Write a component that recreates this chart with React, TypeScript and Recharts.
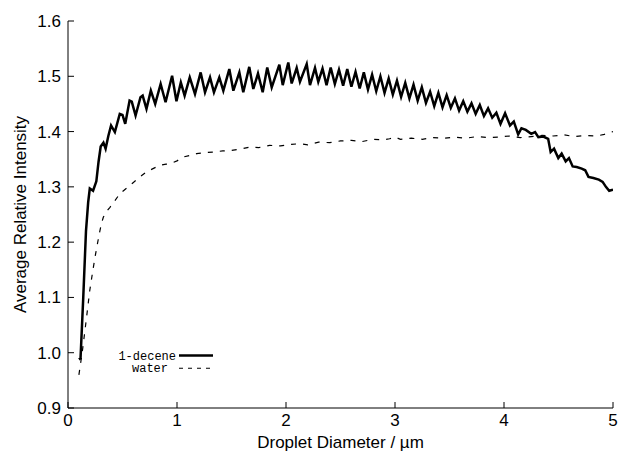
import { LineChart, Line, XAxis, YAxis } from "recharts";

// 1-decene (solid)
const deceneDiameter = [
  0.1, 0.115, 0.14, 0.165, 0.185, 0.2, 0.23, 0.26, 0.28, 0.3, 0.325, 0.345, 0.37, 0.395, 0.43, 0.475,
  0.5, 0.525, 0.565, 0.585, 0.62, 0.665, 0.685, 0.72, 0.76, 0.8, 0.85, 0.895, 0.955, 0.995, 1.035,
  1.07, 1.117, 1.165, 1.217, 1.257, 1.303, 1.339, 1.388, 1.425, 1.48, 1.517, 1.572, 1.608, 1.663,
  1.7, 1.743, 1.786, 1.828, 1.869, 1.939, 1.97, 2.021, 2.052, 2.098, 2.128, 2.19, 2.22, 2.266,
  2.296, 2.335, 2.372, 2.41, 2.448, 2.486, 2.524, 2.562, 2.6, 2.638, 2.676, 2.714, 2.752, 2.79,
  2.828, 2.866, 2.904, 2.942, 2.98, 3.018, 3.056, 3.094, 3.132, 3.17, 3.208, 3.246, 3.284, 3.322,
  3.36, 3.398, 3.436, 3.474, 3.512, 3.55, 3.588, 3.626, 3.664, 3.702, 3.74, 3.778, 3.816, 3.854,
  3.892, 3.93, 3.968, 4.01, 4.055, 4.09, 4.13, 4.16, 4.2, 4.25, 4.285, 4.315, 4.36, 4.405, 4.428,
  4.459, 4.498, 4.529, 4.566, 4.596, 4.63, 4.667, 4.713, 4.745, 4.775, 4.82, 4.87, 4.905, 4.935,
  4.965, 5.0,
];
const deceneIntensity = [
  0.988, 0.99, 1.1, 1.22, 1.272, 1.297, 1.293, 1.31, 1.345, 1.373, 1.38, 1.369, 1.392, 1.411, 1.399, 1.432,
  1.43, 1.414, 1.456, 1.454, 1.429, 1.462, 1.465, 1.441, 1.474, 1.45, 1.486, 1.453, 1.501, 1.455, 1.489,
  1.465, 1.498, 1.468, 1.507, 1.471, 1.498, 1.471, 1.498, 1.474, 1.513, 1.474, 1.507, 1.471, 1.517,
  1.477, 1.505, 1.471, 1.516, 1.48, 1.521, 1.484, 1.525, 1.487, 1.515, 1.49, 1.522, 1.484, 1.515,
  1.49, 1.514, 1.484, 1.516, 1.486, 1.512, 1.483, 1.513, 1.481, 1.508, 1.478, 1.507, 1.476, 1.503,
  1.473, 1.5, 1.47, 1.496, 1.467, 1.492, 1.463, 1.488, 1.46, 1.485, 1.456, 1.48, 1.452, 1.472,
  1.446, 1.47, 1.444, 1.466, 1.443, 1.46, 1.438, 1.455, 1.436, 1.451, 1.432, 1.448, 1.428, 1.442,
  1.425, 1.434, 1.414, 1.433, 1.411, 1.418, 1.395, 1.406, 1.403, 1.396, 1.399, 1.39, 1.391, 1.387, 1.363,
  1.369, 1.352, 1.36, 1.346, 1.352, 1.337, 1.336, 1.333, 1.33, 1.318, 1.316, 1.313, 1.309, 1.3,
  1.293, 1.295,
];

// water (dashed)
const waterDiameter = [
  0.1, 0.13, 0.156, 0.18, 0.2, 0.225, 0.248, 0.27, 0.287, 0.305, 0.324, 0.35, 0.385, 0.43, 0.477,
  0.54, 0.6, 0.66, 0.72, 0.78, 0.844, 0.9, 0.936, 1.0, 1.058, 1.12, 1.18, 1.25, 1.33, 1.42, 1.5,
  1.6, 1.67, 1.75, 1.85, 1.95, 2.05, 2.13, 2.2, 2.3, 2.4, 2.5, 2.6, 2.7, 2.8, 2.9, 2.95, 3.0, 3.05,
  3.15, 3.25, 3.35, 3.45, 3.55, 3.65, 3.75, 3.85, 3.95, 4.05, 4.15, 4.25, 4.35, 4.45, 4.55, 4.65,
  4.75, 4.85, 4.92, 5.0,
];
const waterIntensity = [
  0.96, 1.0, 1.041, 1.08, 1.113, 1.145, 1.173, 1.197, 1.215, 1.232, 1.245, 1.255, 1.263, 1.275, 1.288,
  1.298, 1.308, 1.318, 1.327, 1.333, 1.339, 1.341, 1.342, 1.347, 1.354, 1.357, 1.36, 1.362, 1.363, 1.365, 1.366,
  1.369, 1.372, 1.371, 1.375, 1.374, 1.377, 1.378, 1.376, 1.381, 1.38, 1.383, 1.384, 1.382, 1.386, 1.385, 1.387, 1.39, 1.386,
  1.388, 1.386, 1.389, 1.388, 1.39, 1.388, 1.391, 1.389, 1.39, 1.392, 1.389, 1.391, 1.393, 1.392, 1.394, 1.391,
  1.393, 1.392, 1.395, 1.4,
];

const xTicks = [0, 1, 2, 3, 4, 5];
const yTicks = [0.9, 1.0, 1.1, 1.2, 1.3, 1.4, 1.5, 1.6];

const deceneData = deceneDiameter.map((d, i) => ({ d, v: deceneIntensity[i] }));
const waterData = waterDiameter.map((d, i) => ({ d, v: waterIntensity[i] }));

const FONT = "'Liberation Sans', Arial, Helvetica, sans-serif";
const MONO = "'Liberation Mono', 'Courier New', monospace";

export default function App() {
  return (
    <div style={{ position: "absolute", left: 0, top: 0, width: 622, height: 453, background: "#fff" }}>
      <LineChart width={622} height={453} margin={{ top: 21, right: 9, bottom: 0, left: 8 }}>
        <XAxis
          type="number"
          dataKey="d"
          domain={[0, 5]}
          ticks={xTicks}
          allowDataOverflow
          height={45}
          tickSize={-6}
          tickMargin={12}
          stroke="#000"
          tick={{ fill: "#000", fontSize: 17, fontFamily: FONT }}
          label={{
            value: "Droplet Diameter / µm",
            position: "insideBottom",
            offset: 5,
            style: { fill: "#000", fontSize: 17, fontFamily: FONT },
          }}
        />
        <XAxis
          xAxisId="top"
          orientation="top"
          type="number"
          dataKey="d"
          domain={[0, 5]}
          ticks={xTicks}
          allowDataOverflow
          height={0}
          tickSize={-6}
          tick={false}
          stroke="#000"
        />
        <YAxis
          type="number"
          domain={[0.9, 1.6]}
          ticks={yTicks}
          allowDataOverflow
          width={60}
          tickSize={-6}
          tickMargin={13}
          stroke="#000"
          tickFormatter={(v: number) => v.toFixed(1)}
          tick={{ fill: "#000", fontSize: 17, fontFamily: FONT }}
          label={{
            value: "Average Relative Intensity",
            angle: -90,
            position: "insideLeft",
            offset: 12,
            style: { fill: "#000", fontSize: 17, fontFamily: FONT, textAnchor: "middle" },
          }}
        />
        <YAxis
          yAxisId="right"
          orientation="right"
          type="number"
          domain={[0.9, 1.6]}
          ticks={yTicks}
          allowDataOverflow
          width={0}
          tickSize={-6}
          tick={false}
          stroke="#000"
        />
        <Line
          data={waterData}
          dataKey="v"
          type="linear"
          stroke="#000"
          strokeWidth={1.2}
          strokeDasharray="5 7"
          dot={false}
          isAnimationActive={false}
        />
        <Line
          data={deceneData}
          dataKey="v"
          type="linear"
          stroke="#000"
          strokeWidth={2.5}
          dot={false}
          isAnimationActive={false}
        />
      </LineChart>
      {/* key, drawn like the gnuplot one */}
      <svg
        width={622}
        height={453}
        style={{ position: "absolute", left: 0, top: 0, pointerEvents: "none" }}
      >
        <text x={176} y={359.5} textAnchor="end" fontFamily={MONO} fontSize={12} fill="#000">
          1-decene
        </text>
        <line x1={179} x2={213} y1={355.5} y2={355.5} stroke="#000" strokeWidth={2.6} />
        <text x={168} y={372} textAnchor="end" fontFamily={MONO} fontSize={12} fill="#000">
          water
        </text>
        <line x1={179} x2={213} y1={368.3} y2={368.3} stroke="#000" strokeWidth={1.1} strokeDasharray="4 5" />
      </svg>
    </div>
  );
}
